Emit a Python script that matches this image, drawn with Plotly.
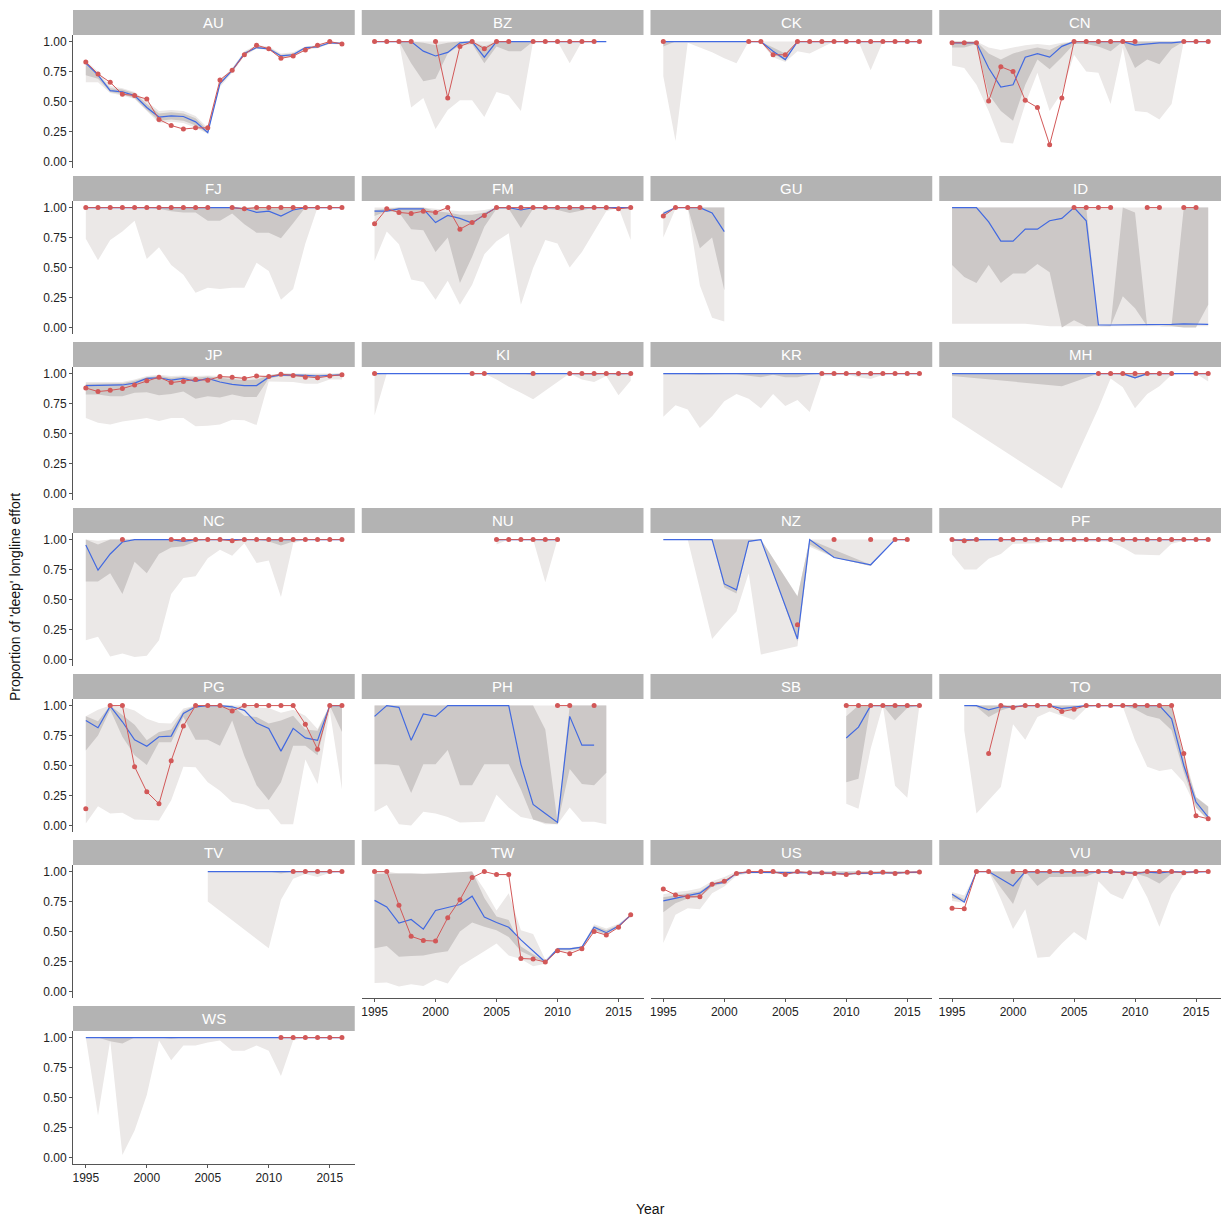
import plotly.graph_objects as go

N = None
YEARS = list(range(1995, 2017))
COUNTRIES = ["AU", "BZ", "CK", "CN", "FJ", "FM", "GU", "ID", "JP", "KI", "KR", "MH", "NC",
             "NU", "NZ", "PF", "PG", "PH", "SB", "TO", "TV", "TW", "US", "VU", "WS"]
Y_TICKS = [0, 0.25, 0.5, 0.75, 1.0]
Y_TICK_TEXT = ["0.00", "0.25", "0.50", "0.75", "1.00"]
X_TICKS = [1995, 2000, 2005, 2010, 2015]

# ---- AU
AU_obs = [0.83,0.73,0.66,0.56,0.55,0.52,0.35,0.30,0.27,0.28,0.28,0.68,0.76,0.89,0.97,0.94,0.86,0.88,0.93,0.97,1.00,0.98]
AU_med = [0.82,0.72,0.59,0.58,0.55,0.45,0.37,0.38,0.375,0.33,0.24,0.65,0.76,0.90,0.95,0.94,0.88,0.89,0.95,0.955,0.99,0.985]
AU_lo95 = [0.66,0.66,0.57,0.55,0.52,0.42,0.32,0.33,0.32,0.28,0.23,0.62,0.74,0.88,0.94,0.93,0.86,0.87,0.93,0.945,0.98,0.975]
AU_hi95 = [0.84,0.75,0.63,0.61,0.58,0.50,0.42,0.43,0.42,0.38,0.28,0.68,0.78,0.92,0.97,0.96,0.90,0.91,0.96,0.97,1.00,0.995]
AU_lo50 = [0.72,0.69,0.58,0.56,0.53,0.43,0.34,0.35,0.34,0.30,0.235,0.64,0.75,0.89,0.945,0.935,0.87,0.88,0.94,0.95,0.985,0.98]
AU_hi50 = [0.83,0.73,0.61,0.60,0.57,0.48,0.40,0.41,0.40,0.36,0.26,0.67,0.77,0.91,0.96,0.95,0.89,0.90,0.955,0.965,0.995,0.99]
# ---- BZ
BZ_obs = [1,1,1,1,N,1,0.53,0.96,1,0.94,1,1,N,1,1,1,1,1,1,N,N,N]
BZ_med = [1,1,1,1,0.92,0.88,0.91,0.99,1,0.87,1,1,1,1,1,1,1,1,1,1,N,N]
BZ_lo95 = [1,1,1,0.45,0.53,0.27,0.43,0.51,0.51,0.37,0.58,0.55,0.42,1,1,1,0.82,1,1,1,N,N]
BZ_hi95 = [1,1,1,1,1,1,1,1,1,1,1,1,1,1,1,1,1,1,1,1,N,N]
BZ_lo50 = [1,1,1,0.82,0.67,0.69,0.90,0.97,0.98,0.82,0.96,0.92,0.92,1,1,1,1,1,1,1,N,N]
BZ_hi50 = [1,1,1,1,0.99,0.97,0.99,1,1,0.96,1,1,1,1,1,1,1,1,1,1,N,N]
# ---- CK
CK_obs = [1,N,N,N,N,N,N,1,1,0.89,0.89,1,1,1,1,1,1,1,1,1,1,1]
CK_med = [1,1,1,1,1,1,1,1,1,0.92,0.85,1,1,1,1,1,1,1,1,1,1,1]
CK_lo95 = [0.71,0.17,0.99,0.95,0.91,0.86,0.82,1,0.99,0.87,0.83,0.92,0.90,0.95,1,1,1,0.76,1,1,1,1]
CK_hi95 = [1,1,1,1,1,1,1,1,1,1,1,1,1,1,1,1,1,1,1,1,1,1]
CK_lo50 = [0.96,1,1,1,1,1,1,1,1,0.90,0.84,1,1,1,1,1,1,1,1,1,1,1]
CK_hi50 = [1,1,1,1,1,1,1,1,1,0.95,0.90,1,1,1,1,1,1,1,1,1,1,1]
# ---- CN
CN_obs = [0.99,0.99,0.99,0.505,0.79,0.75,0.51,0.45,0.14,0.53,1,1,1,1,1,1,N,N,N,1,1,1]
CN_med = [0.99,0.99,0.99,0.78,0.62,0.64,0.87,0.90,0.87,0.96,1,1,1,1,1,0.97,0.98,0.99,0.99,1,1,1]
CN_lo95 = [0.80,0.78,0.64,0.42,0.16,0.15,0.48,0.74,0.42,0.575,0.89,0.75,0.74,0.48,0.95,0.42,0.41,0.35,0.48,1,1,1]
CN_hi95 = [1,1,1,0.95,0.93,0.95,0.97,0.98,0.97,0.99,1,1,1,1,1,1,1,1,1,1,1,1]
CN_lo50 = [0.95,0.95,0.98,0.56,0.42,0.34,0.64,0.85,0.77,0.87,0.98,0.98,0.96,0.92,1,0.78,0.85,0.81,0.94,1,1,1]
CN_hi50 = [1,1,1,0.90,0.85,0.90,0.93,0.95,0.93,0.98,1,1,1,1,1,1,1,1,1,1,1,1]
# ---- FJ
FJ_obs = [1,1,1,1,1,1,1,1,1,1,1,N,1,0.99,1,1,1,1,1,1,1,1]
FJ_med = [1,1,1,1,1,1,1,1,1,1,1,1,1,0.99,0.96,0.97,0.93,0.98,1,1,1,1]
FJ_lo95 = [0.74,0.56,0.73,0.80,0.89,0.57,0.67,0.52,0.44,0.29,0.33,0.32,0.33,0.33,0.54,0.47,0.23,0.32,0.70,1,1,1]
FJ_hi95 = [1,1,1,1,1,1,1,1,1,1,1,1,1,1,1,1,1,1,1,1,1,1]
FJ_lo50 = [1,1,1,1,1,1,0.99,0.97,0.96,0.96,0.89,0.89,0.95,0.86,0.79,0.79,0.745,0.87,1,1,1,1]
FJ_hi50 = [1,1,1,1,1,1,1,1,1,1,1,1,1,1,1,1,1,1,1,1,1,1]
# ---- FM
FM_obs = [0.865,0.99,0.96,0.95,0.97,0.96,1,0.82,0.875,0.935,1,1,1,1,1,1,1,1,1,1,0.99,1]
FM_med = [0.97,0.97,0.99,0.99,0.99,0.875,0.935,0.91,0.87,0.94,1,1,0.98,1,1,1,1,1,1,1,1,1]
FM_lo95 = [0.555,0.80,0.695,0.40,0.38,0.23,0.39,0.19,0.355,0.61,0.72,0.785,0.19,0.495,0.73,0.70,0.50,0.63,0.80,0.97,1,0.73]
FM_hi95 = [1,1,1,1,1,0.99,0.98,0.97,0.97,0.98,1,1,1,1,1,1,1,1,1,1,1,1]
FM_lo50 = [0.93,0.97,0.96,0.82,0.81,0.63,0.75,0.37,0.59,0.84,0.99,0.99,0.83,0.99,0.99,0.98,0.955,0.975,1,1,1,1]
FM_hi50 = [0.98,0.99,1,1,1,0.97,0.96,0.94,0.94,0.96,1,1,1,1,1,1,1,1,1,1,1,1]
# ---- GU
GU_obs = [0.93,1,1,1,N,N,N,N,N,N,N,N,N,N,N,N,N,N,N,N,N,N]
GU_med = [0.95,1,1,1,0.955,0.80,N,N,N,N,N,N,N,N,N,N,N,N,N,N,N,N]
GU_lo95 = [0.75,0.99,1,0.35,0.08,0.05,N,N,N,N,N,N,N,N,N,N,N,N,N,N,N,N]
GU_hi95 = [0.97,1,1,1,1,1,N,N,N,N,N,N,N,N,N,N,N,N,N,N,N,N]
GU_lo50 = [0.93,1,1,0.66,0.75,0.31,N,N,N,N,N,N,N,N,N,N,N,N,N,N,N,N]
GU_hi50 = [0.96,1,1,1,1,1,N,N,N,N,N,N,N,N,N,N,N,N,N,N,N,N]
# ---- ID
ID_obs = [N,N,N,N,N,N,N,N,N,N,1,1,1,1,N,N,1,1,N,1,1,N]
ID_med = [1,1,1,0.88,0.72,0.72,0.82,0.82,0.89,0.91,1,0.89,0.02,0.02,0.02,0.02,0.02,0.025,0.025,0.03,0.025,0.025]
ID_lo95 = [0.03,0.03,0.03,0.03,0.03,0.03,0.03,0.02,0.01,0.01,0.01,0.01,0.01,0.01,0.01,0.01,0.01,0.01,0.01,0.01,0.01,0.01]
ID_hi95 = [1,1,1,1,1,1,1,1,1,1,1,1,1,1,1,1,1,1,1,1,1,1]
ID_lo50 = [0.52,0.42,0.37,0.52,0.37,0.45,0.45,0.53,0.46,0.0,0.06,0.01,0.01,0.01,0.26,0.16,0.01,0.01,0.01,0.0,0.0,0.19]
ID_hi50 = [1,1,1,1,1,1,1,1,1,1,1,1,0.01,0.02,1,0.96,0.01,0.01,0.02,1,1,1]
# ---- JP
JP_obs = [0.88,0.85,0.86,0.875,0.905,0.94,0.97,0.925,0.935,0.95,0.945,0.975,0.97,0.96,0.98,0.975,0.995,0.985,0.97,0.965,0.98,0.99]
JP_med = [0.90,0.90,0.905,0.905,0.92,0.96,0.965,0.945,0.96,0.935,0.96,0.93,0.91,0.90,0.90,0.97,0.99,0.99,0.985,0.98,0.985,0.99]
JP_lo95 = [0.63,0.59,0.575,0.60,0.615,0.63,0.605,0.63,0.63,0.56,0.565,0.575,0.615,0.61,0.57,0.935,0.93,0.93,0.915,0.915,0.95,0.95]
JP_hi95 = [0.93,0.93,0.93,0.93,0.95,0.98,0.99,0.98,0.985,0.98,0.985,0.98,0.975,0.97,0.97,0.99,1,1,1,1,1,1]
JP_lo50 = [0.825,0.825,0.81,0.81,0.84,0.845,0.82,0.83,0.85,0.79,0.81,0.80,0.825,0.805,0.805,0.96,0.98,0.975,0.97,0.965,0.98,0.985]
JP_hi50 = [0.915,0.915,0.915,0.92,0.94,0.97,0.98,0.965,0.975,0.965,0.975,0.965,0.955,0.945,0.95,0.985,1,0.995,0.99,0.99,0.995,1]
# ---- KI
KI_obs = [1,N,N,N,N,N,N,N,1,1,N,N,N,1,N,N,1,1,1,1,1,1]
KI_med = [1,1,1,1,1,1,1,1,1,1,1,1,1,1,1,1,1,1,1,1,1,1]
KI_lo95 = [0.65,1,1,1,1,1,1,1,1,1,0.95,0.89,0.84,0.785,0.855,0.93,1,0.95,0.93,0.98,0.82,0.94]
KI_hi95 = [1,1,1,1,1,1,1,1,1,1,1,1,1,1,1,1,1,1,1,1,1,1]
KI_lo50 = [0.99,1,1,1,1,1,1,1,1,1,1,1,1,0.99,1,1,1,0.995,0.99,1,0.99,1]
KI_hi50 = [1,1,1,1,1,1,1,1,1,1,1,1,1,1,1,1,1,1,1,1,1,1]
# ---- KR
KR_obs = [N,N,N,N,N,N,N,N,N,N,N,N,N,1,1,1,1,1,1,1,1,1]
KR_med = [1,1,1,1,1,1,1,1,1,1,1,1,1,1,1,1,1,1,1,1,1,1]
KR_lo95 = [0.64,0.735,0.70,0.545,0.645,0.77,0.83,0.79,0.71,0.83,0.73,0.78,0.68,0.985,0.985,0.995,0.97,0.955,0.99,1,1,1]
KR_hi95 = [1,1,1,1,1,1,1,1,1,1,1,1,1,1,1,1,1,1,1,1,1,1]
KR_lo50 = [0.995,0.995,0.995,0.99,0.99,0.995,0.995,0.98,0.97,0.99,0.97,0.97,0.99,1,1,1,1,1,1,1,1,1]
KR_hi50 = [1,1,1,1,1,1,1,1,1,1,1,1,1,1,1,1,1,1,1,1,1,1]
# ---- MH
MH_obs = [N,N,N,N,N,N,N,N,N,N,N,N,1,1,1,1,1,1,1,N,1,1]
MH_med = [1,N,N,N,N,N,N,N,N,1,N,N,1,1,1,0.965,1,1,1,1,1,1]
MH_lo95 = [0.636,N,N,N,N,N,N,N,N,0.04,N,N,0.71,0.96,0.885,0.71,0.83,0.895,0.99,1,1,0.935]
MH_hi95 = [1,N,N,N,N,N,N,N,N,1,N,N,1,1,1,1,1,1,1,1,1,1]
MH_lo50 = [0.98,N,N,N,N,N,N,N,N,0.895,N,N,1,1,0.99,0.96,0.99,1,1,1,1,1]
MH_hi50 = [1,N,N,N,N,N,N,N,N,1,N,N,1,1,1,0.99,1,1,1,1,1,1]
# ---- NC
NC_obs = [N,N,N,1,N,N,N,1,1,1,1,1,0.99,1,1,1,1,1,1,1,1,1]
NC_med = [0.955,0.745,0.88,0.98,1,1,1,1,0.985,1,1,1,1,1,1,1,1,1,1,1,1,1]
NC_lo95 = [0.16,0.19,0.025,0.05,0.02,0.03,0.16,0.545,0.68,0.695,0.845,0.915,0.865,0.97,0.805,0.825,0.52,0.97,1,1,1,1]
NC_hi95 = [1,0.99,1,1,1,1,1,1,1,1,1,1,1,1,1,1,1,1,1,1,1,1]
NC_lo50 = [0.65,0.65,0.72,0.545,0.815,0.72,0.88,0.935,0.945,0.985,1,1,1,1,1,0.985,0.95,0.985,1,1,1,1]
NC_hi50 = [1,0.96,1,1,1,1,1,1,1,1,1,1,1,1,1,1,1,1,1,1,1,1]
# ---- NU
NU_obs = [N,N,N,N,N,N,N,N,N,N,1,1,1,1,1,1,N,N,N,N,N,N]
NU_med = [N,N,N,N,N,N,N,N,N,N,1,1,1,1,1,1,N,N,N,N,N,N]
NU_lo95 = [N,N,N,N,N,N,N,N,N,N,0.96,1,1,1,0.645,1,N,N,N,N,N,N]
NU_hi95 = [N,N,N,N,N,N,N,N,N,N,1,1,1,1,1,1,N,N,N,N,N,N]
NU_lo50 = [N,N,N,N,N,N,N,N,N,N,0.99,1,1,1,0.99,1,N,N,N,N,N,N]
NU_hi50 = [N,N,N,N,N,N,N,N,N,N,1,1,1,1,1,1,N,N,N,N,N,N]
# ---- NZ
NZ_obs = [N,N,N,N,N,N,N,N,N,N,N,0.29,N,N,1,N,N,1,N,1,1,N]
NZ_med = [1,1,1,1,1,0.63,0.58,0.985,1,N,N,0.17,1,N,0.85,N,N,0.79,N,1,1,N]
NZ_lo95 = [1,1,1,0.58,0.17,0.29,0.40,0.72,0.04,N,N,0.11,0.94,N,0.85,N,N,0.78,N,1,1,N]
NZ_hi95 = [1,1,1,1,1,1,1,1,1,N,N,0.53,1,N,1,N,N,1,N,1,1,N]
NZ_lo50 = [1,1,1,1,1,0.60,0.55,0.98,1,N,N,0.15,0.96,N,0.85,N,N,0.78,N,1,1,N]
NZ_hi50 = [1,1,1,1,1,1,1,1,1,N,N,0.525,1,N,0.915,N,N,0.79,N,1,1,N]
# ---- PF
PF_obs = [1,0.99,1,N,1,1,1,1,1,1,1,1,1,1,1,1,1,1,1,1,1,1]
PF_med = [0.995,1,1,1,1,1,1,1,1,1,1,1,1,1,1,1,1,1,1,1,1,1]
PF_lo95 = [0.875,0.75,0.75,0.84,0.88,0.965,0.965,0.97,0.985,0.98,0.985,0.985,0.985,0.985,0.935,0.875,0.87,0.87,0.965,0.99,1,1]
PF_hi95 = [1,1,1,1,1,1,1,1,1,1,1,1,1,1,1,1,1,1,1,1,1,1]
PF_lo50 = [0.99,0.985,0.99,0.995,1,1,1,1,1,1,1,1,1,1,1,1,1,1,1,1,1,1]
PF_hi50 = [1,1,1,1,1,1,1,1,1,1,1,1,1,1,1,1,1,1,1,1,1,1]
# ---- PG
PG_obs = [0.14,N,1,1,0.49,0.28,0.18,0.54,0.83,1,1,1,0.955,1,1,1,1,1,0.845,0.635,1,1]
PG_med = [0.875,0.815,0.995,0.865,0.715,0.66,0.74,0.745,0.935,0.99,1,1,0.99,0.96,0.855,0.81,0.62,0.81,0.73,0.71,1,1]
PG_lo95 = [0.015,0.16,0.10,0.105,0.05,0.045,0.04,0.21,0.49,0.485,0.36,0.29,0.195,0.175,0.135,0.135,0.01,0.01,0.55,0.345,0.96,0.30]
PG_hi95 = [0.91,0.965,1,0.99,0.96,0.89,0.855,0.85,0.975,1,1,1,1,1,0.985,0.98,0.94,0.965,0.915,0.805,1,1]
PG_lo50 = [0.625,0.75,0.965,0.74,0.585,0.505,0.695,0.695,0.905,0.715,0.715,0.665,0.875,0.58,0.335,0.21,0.36,0.665,0.665,0.585,1,0.78]
PG_hi50 = [0.91,0.87,1,0.92,0.84,0.71,0.78,0.80,0.955,1,1,1,1,0.915,0.905,0.85,0.875,0.915,0.80,0.79,1,1]
# ---- PH
PH_obs = [N,N,N,N,N,N,N,N,N,N,N,N,N,N,N,1,1,N,1,N,N,N]
PH_med = [0.91,1.0,0.985,0.71,0.93,0.91,1,1,1,1,1,1,0.51,0.175,0.10,0.025,0.91,0.67,0.67,N,N,N]
PH_lo95 = [0.115,0.17,0.01,0.0,0.115,0.10,0.07,0.025,0.03,0.03,0.255,0.15,0.07,0.05,0.01,0.01,0.15,0.03,0.03,0.01,N,N]
PH_hi95 = [1,1,1,1,1,1,1,1,1,1,1,1,1,1,1,1,1,1,1,1,N,N]
PH_lo50 = [0.51,0.51,0.50,0.27,0.51,0.51,0.63,0.335,0.335,0.51,0.51,0.51,0.30,0.05,0.02,0.01,0.47,0.345,0.335,0.44,N,N]
PH_hi50 = [1,1,1,1,1,1,1,1,1,1,1,1,1,1,0.80,0.03,1,1,1,1,N,N]
# ---- SB
SB_obs = [N,N,N,N,N,N,N,N,N,N,N,N,N,N,N,1,1,1,1,1,1,1]
SB_med = [N,N,N,N,N,N,N,N,N,N,N,N,N,N,N,0.73,0.82,1,1,1,1,1]
SB_lo95 = [N,N,N,N,N,N,N,N,N,N,N,N,N,N,N,0.18,0.14,0.64,1,0.33,0.23,1]
SB_hi95 = [N,N,N,N,N,N,N,N,N,N,N,N,N,N,N,1,1,1,1,1,1,1]
SB_lo50 = [N,N,N,N,N,N,N,N,N,N,N,N,N,N,N,0.36,0.39,1,1,0.875,0.98,1]
SB_hi50 = [N,N,N,N,N,N,N,N,N,N,N,N,N,N,N,0.91,1,1,1,1,1,1]
# ---- TO
TO_obs = [N,N,N,0.60,1,0.985,1,1,1,0.95,0.97,1,1,1,1,1,1,1,1,0.60,0.08,0.055]
TO_med = [N,1,1,0.965,0.99,0.99,1,1,1,0.975,0.985,1,1,1,1,1,1,1,0.89,0.50,0.195,0.07]
TO_lo95 = [N,0.795,0.10,0.21,0.32,0.845,0.715,0.905,0.95,0.915,0.88,0.98,1,1,0.99,0.71,0.49,0.455,0.47,0.36,0.15,0.04]
TO_hi95 = [N,1,1,1,1,1,1,1,1,1,1,1,1,1,1,1,1,1,1,0.60,0.24,0.16]
TO_lo50 = [N,1,0.99,0.905,0.96,0.99,1,1,1,0.96,0.97,1,1,1,1,0.97,0.915,0.89,0.795,0.445,0.15,0.045]
TO_hi50 = [N,1,1,1,1,1,1,1,1,1,1,1,1,1,1,1,1,1,1,0.56,0.235,0.155]
# ---- TV
TV_obs = [N,N,N,N,N,N,N,N,N,N,N,N,N,N,N,N,N,1,1,1,1,1]
TV_med = [N,N,N,N,N,N,N,N,N,N,1,N,N,N,N,1,1,1,1,1,1,1]
TV_lo95 = [N,N,N,N,N,N,N,N,N,N,0.75,N,N,N,N,0.36,0.765,0.94,0.98,0.955,0.99,1]
TV_hi95 = [N,N,N,N,N,N,N,N,N,N,1,N,N,N,N,1,1,1,1,1,1,1]
TV_lo50 = [N,N,N,N,N,N,N,N,N,N,1,N,N,N,N,1,0.985,1,1,1,1,1]
TV_hi50 = [N,N,N,N,N,N,N,N,N,N,1,N,N,N,N,1,1,1,1,1,1,1]
# ---- TW
TW_obs = [1,1,0.72,0.46,0.425,0.42,0.615,0.765,0.95,1.0,0.975,0.975,0.275,0.27,0.245,0.34,0.315,0.355,0.50,0.47,0.535,0.64]
TW_med = [0.76,0.705,0.57,0.60,0.52,0.675,0.70,0.725,0.795,0.62,0.575,0.535,0.43,0.335,0.245,0.355,0.355,0.37,0.535,0.49,0.545,0.635]
TW_lo95 = [0.07,0.075,0.04,0.06,0.045,0.10,0.065,0.21,0.27,0.335,0.40,0.30,0.27,0.21,0.23,0.335,0.33,0.35,0.505,0.475,0.535,0.625]
TW_hi95 = [1,1,0.985,0.985,0.98,0.985,0.99,0.99,1,0.85,0.675,0.82,0.51,0.48,0.265,0.365,0.365,0.38,0.56,0.525,0.565,0.645]
TW_lo50 = [0.36,0.38,0.29,0.295,0.30,0.32,0.335,0.50,0.575,0.54,0.51,0.455,0.335,0.29,0.24,0.345,0.345,0.36,0.51,0.48,0.54,0.63]
TW_hi50 = [0.98,0.985,0.985,0.985,0.98,0.985,0.99,0.99,1.0,0.78,0.625,0.595,0.375,0.31,0.25,0.36,0.36,0.375,0.545,0.51,0.555,0.64]
# ---- US
US_obs = [0.855,0.805,0.79,0.79,0.895,0.92,0.985,1,1,1,0.975,1,0.99,0.99,0.985,0.975,0.99,0.99,0.995,0.985,0.995,0.997]
US_med = [0.755,0.78,0.80,0.82,0.895,0.91,0.985,0.995,0.995,0.995,0.99,0.995,0.99,0.99,0.985,0.98,0.985,0.99,0.99,0.99,0.99,0.995]
US_lo95 = [0.405,0.64,0.695,0.685,0.82,0.875,0.965,0.985,0.985,0.985,0.975,0.985,0.98,0.98,0.975,0.97,0.975,0.98,0.98,0.98,0.98,0.985]
US_hi95 = [0.81,0.83,0.84,0.86,0.92,0.955,1,1,1,1,1,1,1,1,1,1,1,1,1,1,1,1]
US_lo50 = [0.66,0.735,0.775,0.785,0.875,0.905,0.98,0.99,0.99,0.99,0.985,0.99,0.985,0.985,0.98,0.975,0.98,0.985,0.985,0.985,0.985,0.99]
US_hi50 = [0.785,0.80,0.815,0.835,0.905,0.925,0.99,1,1,1,1,1,1,1,1,1,1,1,1,1,1,1]
# ---- VU
VU_obs = [0.695,0.69,1,1,N,1,1,1,1,1,1,1,1,1,0.99,0.985,1,1,1,0.99,1,1]
VU_med = [0.81,0.745,1,1,0.94,0.88,1,1,1,0.995,1,1,1,1,0.995,0.985,0.995,0.99,1,0.995,1,1]
VU_lo95 = [0.755,0.74,1,1,0.77,0.52,0.685,0.28,0.29,0.40,0.495,0.425,0.92,0.815,0.77,0.975,0.785,0.54,0.81,0.975,0.99,1]
VU_hi95 = [0.83,0.80,1,1,1,1,1,1,1,1,1,1,1,1,1,1,1,1,1,1,1,1]
VU_lo50 = [0.78,0.75,1,1,0.865,0.73,1,0.88,0.955,0.955,0.955,0.96,1,0.995,0.995,0.985,0.955,0.90,0.985,1,1,1]
VU_hi50 = [0.82,0.77,1,1,1,1,1,1,1,1,1,1,1,1,1,1,1,1,1,1,1,1]
# ---- WS
WS_obs = [N,N,N,N,N,N,N,N,N,N,N,N,N,N,N,N,1,1,1,1,1,1]
WS_med = [1,1,1,1,1,1,1,1,1,1,1,1,1,1,1,1,1,1,1,1,1,1]
WS_lo95 = [1,0.35,0.975,0.02,0.225,0.52,0.975,0.81,0.935,0.935,0.96,0.975,0.89,0.89,0.935,0.89,0.68,0.975,1,1,1,1]
WS_hi95 = [1,1,1,1,1,1,1,1,1,1,1,1,1,1,1,1,1,1,1,1,1,1]
WS_lo50 = [1,1,0.97,0.95,1,1,1,0.99,1,1,1,1,1,1,1,1,1,1,1,1,1,1]
WS_hi50 = [1,1,1,1,1,1,1,1,1,1,1,1,1,1,1,1,1,1,1,1,1,1]

DATA = {
    "AU": (AU_obs, AU_med, AU_lo95, AU_hi95, AU_lo50, AU_hi50),
    "BZ": (BZ_obs, BZ_med, BZ_lo95, BZ_hi95, BZ_lo50, BZ_hi50),
    "CK": (CK_obs, CK_med, CK_lo95, CK_hi95, CK_lo50, CK_hi50),
    "CN": (CN_obs, CN_med, CN_lo95, CN_hi95, CN_lo50, CN_hi50),
    "FJ": (FJ_obs, FJ_med, FJ_lo95, FJ_hi95, FJ_lo50, FJ_hi50),
    "FM": (FM_obs, FM_med, FM_lo95, FM_hi95, FM_lo50, FM_hi50),
    "GU": (GU_obs, GU_med, GU_lo95, GU_hi95, GU_lo50, GU_hi50),
    "ID": (ID_obs, ID_med, ID_lo95, ID_hi95, ID_lo50, ID_hi50),
    "JP": (JP_obs, JP_med, JP_lo95, JP_hi95, JP_lo50, JP_hi50),
    "KI": (KI_obs, KI_med, KI_lo95, KI_hi95, KI_lo50, KI_hi50),
    "KR": (KR_obs, KR_med, KR_lo95, KR_hi95, KR_lo50, KR_hi50),
    "MH": (MH_obs, MH_med, MH_lo95, MH_hi95, MH_lo50, MH_hi50),
    "NC": (NC_obs, NC_med, NC_lo95, NC_hi95, NC_lo50, NC_hi50),
    "NU": (NU_obs, NU_med, NU_lo95, NU_hi95, NU_lo50, NU_hi50),
    "NZ": (NZ_obs, NZ_med, NZ_lo95, NZ_hi95, NZ_lo50, NZ_hi50),
    "PF": (PF_obs, PF_med, PF_lo95, PF_hi95, PF_lo50, PF_hi50),
    "PG": (PG_obs, PG_med, PG_lo95, PG_hi95, PG_lo50, PG_hi50),
    "PH": (PH_obs, PH_med, PH_lo95, PH_hi95, PH_lo50, PH_hi50),
    "SB": (SB_obs, SB_med, SB_lo95, SB_hi95, SB_lo50, SB_hi50),
    "TO": (TO_obs, TO_med, TO_lo95, TO_hi95, TO_lo50, TO_hi50),
    "TV": (TV_obs, TV_med, TV_lo95, TV_hi95, TV_lo50, TV_hi50),
    "TW": (TW_obs, TW_med, TW_lo95, TW_hi95, TW_lo50, TW_hi50),
    "US": (US_obs, US_med, US_lo95, US_hi95, US_lo50, US_hi50),
    "VU": (VU_obs, VU_med, VU_lo95, VU_hi95, VU_lo50, VU_hi50),
    "WS": (WS_obs, WS_med, WS_lo95, WS_hi95, WS_lo50, WS_hi50),
}

# ---------------- styling / geometry ----------------
FONT = "Liberation Sans, Arial, Helvetica, sans-serif"
LIGHT = "rgb(235,232,231)"
DARK = "rgb(204,200,199)"
BLUE = "#4169E1"
RED = "#D25858"
STRIP = "#B3B3B3"
AXIS = "#555555"

W, H = 1222, 1217
ML, MR, MT, MB = 73, 1, 10, 53
PLOT_W = W - ML - MR
PLOT_H = H - MT - MB
NCOL = 4
COL_GAP = 7
PANEL_W = (PLOT_W - (NCOL - 1) * COL_GAP) / NCOL
ROW_PERIOD = 166
STRIP_H = 25
PANEL_H = 133
BOTTOM_AXIS = {"TW", "US", "VU", "WS"}


def py(px):
    return 1 - (px - MT) / PLOT_H


def xdom(c):
    x0 = c * (PANEL_W + COL_GAP)
    return [x0 / PLOT_W, (x0 + PANEL_W) / PLOT_W]


fig = go.Figure()
shapes, annotations = [], []
layout_axes = {}

for i, code in enumerate(COUNTRIES):
    r, c = divmod(i, NCOL)
    idx = i + 1
    xa = "x" if idx == 1 else f"x{idx}"
    ya = "y" if idx == 1 else f"y{idx}"
    obs, med, lo95, hi95, lo50, hi50 = DATA[code]

    for lo, hi, col in ((lo95, hi95, LIGHT), (lo50, hi50, DARK)):
        yrs = [y for y, a, b in zip(YEARS, lo, hi) if a is not None and b is not None]
        los = [a for a, b in zip(lo, hi) if a is not None and b is not None]
        his = [b for a, b in zip(lo, hi) if a is not None and b is not None]
        fig.add_trace(go.Scatter(x=yrs + yrs[::-1], y=his + los[::-1], fill="toself",
                                 fillcolor=col, line=dict(width=0), mode="lines",
                                 hoverinfo="skip", showlegend=False, xaxis=xa, yaxis=ya))
    myrs = [y for y, v in zip(YEARS, med) if v is not None]
    mv = [v for v in med if v is not None]
    fig.add_trace(go.Scatter(x=myrs, y=mv, mode="lines", line=dict(color=BLUE, width=1.2),
                             showlegend=False, xaxis=xa, yaxis=ya))
    fig.add_trace(go.Scatter(x=YEARS, y=obs, mode="lines+markers", connectgaps=False,
                             line=dict(color=RED, width=1), marker=dict(color=RED, size=5),
                             showlegend=False, xaxis=xa, yaxis=ya))

    strip_top = MT + r * ROW_PERIOD
    ptop = strip_top + STRIP_H
    pbot = ptop + PANEL_H
    xd = xdom(c)
    left = c == 0
    bottom = code in BOTTOM_AXIS

    layout_axes["xaxis" if idx == 1 else f"xaxis{idx}"] = dict(
        domain=xd, anchor=ya, range=[1993.95, 2017.05], showgrid=False, zeroline=False,
        showline=bottom, linecolor=AXIS, linewidth=1,
        ticks="outside" if bottom else "", ticklen=3, tickcolor=AXIS,
        tickvals=X_TICKS, showticklabels=bottom,
        tickfont=dict(family=FONT, size=12, color="#222"))
    layout_axes["yaxis" if idx == 1 else f"yaxis{idx}"] = dict(
        domain=[py(pbot), py(ptop)], anchor=xa, range=[-0.055, 1.055], showgrid=False,
        zeroline=False, showline=left, linecolor=AXIS, linewidth=1,
        ticks="outside" if left else "", ticklen=3, tickcolor=AXIS,
        tickvals=Y_TICKS, ticktext=Y_TICK_TEXT, showticklabels=left,
        tickfont=dict(family=FONT, size=12, color="#222"))

    shapes.append(dict(type="rect", xref="paper", yref="paper", x0=xd[0], x1=xd[1],
                       y0=py(strip_top + STRIP_H), y1=py(strip_top),
                       fillcolor=STRIP, line=dict(width=0), layer="below"))
    annotations.append(dict(text=code, xref="paper", yref="paper",
                            x=(xd[0] + xd[1]) / 2, y=py(strip_top + STRIP_H / 2),
                            showarrow=False, xanchor="center", yanchor="middle",
                            font=dict(family=FONT, size=15, color="white")))

annotations.append(dict(text="Proportion of 'deep' longline effort", xref="paper", yref="paper",
                        x=-58 / PLOT_W, y=py(597), textangle=-90, showarrow=False,
                        xanchor="center", yanchor="middle",
                        font=dict(family=FONT, size=14, color="#111")))
annotations.append(dict(text="Year", xref="paper", yref="paper",
                        x=(650 - ML) / PLOT_W, y=py(1209), showarrow=False,
                        xanchor="center", yanchor="middle",
                        font=dict(family=FONT, size=14, color="#111")))

fig.update_layout(width=W, height=H, margin=dict(l=ML, r=MR, t=MT, b=MB),
                  paper_bgcolor="white", plot_bgcolor="white", showlegend=False,
                  shapes=shapes, annotations=annotations, **layout_axes)
fig.write_html("out.html", config={"displayModeBar": False},
               post_script="document.body.style.margin='0';document.body.style.padding='0';"
                           "document.body.style.overflow='hidden';")
